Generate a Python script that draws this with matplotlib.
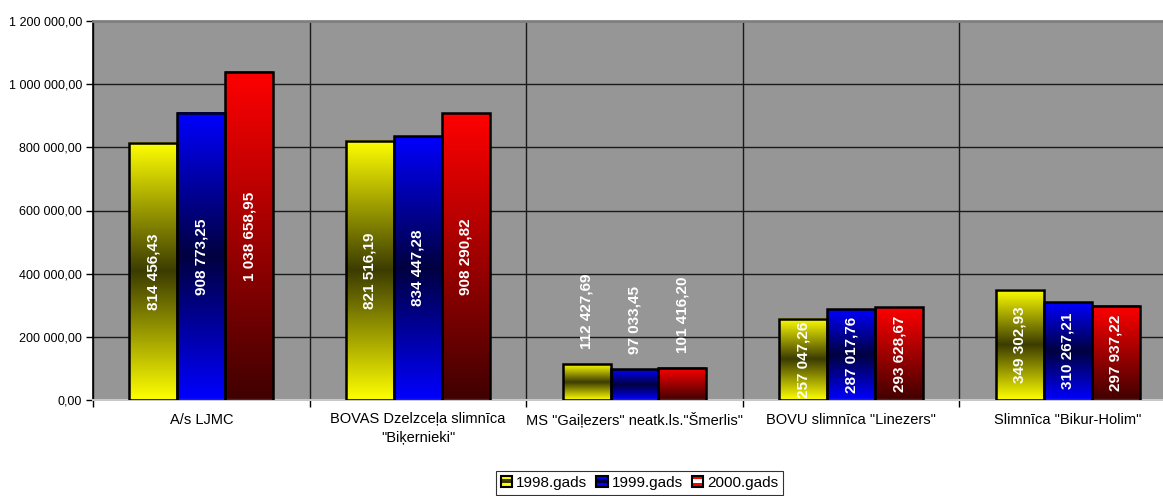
import numpy as np
import matplotlib
matplotlib.use("Agg")
import matplotlib.pyplot as plt
from matplotlib.colors import LinearSegmentedColormap
from matplotlib.patches import Rectangle
from matplotlib.legend_handler import HandlerBase
from matplotlib.ticker import FuncFormatter, FixedLocator

plt.rcParams['font.family'] = ['Liberation Sans', 'DejaVu Sans']

categories = ['A/s LJMC', 'BOVAS Dzelzceļa slimnīca\n"Biķernieki"',
              'MS "Gaiļezers" neatk.ls."Šmerlis"', 'BOVU slimnīca "Linezers"',
              'Slimnīca "Bikur-Holim"']
series_names = ['1998.gads', '1999.gads', '2000.gads']
v1998 = [814456.43, 821516.19, 112427.69, 257047.26, 349302.93]
v1999 = [908773.25, 834447.28, 97033.45, 287017.76, 310267.21]
v2000 = [1038658.95, 908290.82, 101416.20, 293628.67, 297937.22]
values = [v1998, v1999, v2000]

# gradient stops (bottom -> top)
grad_stops = [
    ['#ffff00', '#3c3c00', '#ffff00'],
    ['#0000ff', '#000040', '#0000ff'],
    ['#400000', '#ff0000'],
]
cmaps = [LinearSegmentedColormap.from_list(f'g{i}', s) for i, s in enumerate(grad_stops)]

W, H = 1163, 496
fig = plt.figure(figsize=(W / 100, H / 100), dpi=100)
ax = fig.add_axes([93 / W, 1 - 400 / H, (1176 - 93) / W, (400 - 21) / H])
ax.set_facecolor('#969696')

n = len(categories)
bw = 48 / 216.7
xs = np.arange(n)
ymax = 1200000

grad = np.linspace(0, 1, 256).reshape(-1, 1)
for si, vals in enumerate(values):
    for ci, v in enumerate(vals):
        x0 = ci - 1.5 * bw + si * bw
        ax.imshow(grad, cmap=cmaps[si], origin='lower', aspect='auto',
                  extent=[x0, x0 + bw, 0, v], zorder=2, interpolation='bilinear')
        ax.add_patch(Rectangle((x0, 0), bw, v, facecolor='none', edgecolor='black',
                               linewidth=1.8, zorder=3))
        lab = f"{v:,.2f}".replace(",", " ").replace(".", ",")
        xc = x0 + bw / 2
        if v < 150000:
            ax.annotate(lab, (xc, v), xytext=(0, 11), textcoords='offset points',
                        rotation=90, ha='center', va='bottom', color='white',
                        fontsize=11, fontweight='bold', zorder=4)
        else:
            ax.text(xc, v / 2, lab, rotation=90, ha='center', va='center',
                    color='white', fontsize=11, fontweight='bold', zorder=4)

ax.set_xlim(-0.5, n - 0.5)
ax.set_ylim(0, ymax)

ax.set_yticks(np.arange(0, ymax + 1, 200000))
ax.yaxis.set_major_formatter(FuncFormatter(
    lambda v, p: f"{v:,.2f}".replace(",", " ").replace(".", ",")))
ax.tick_params(axis='y', labelsize=9, length=5, width=1, color='black', pad=3)
ax.grid(axis='y', color='#1a1a1a', linewidth=1, zorder=1)

ax.xaxis.set_major_locator(FixedLocator(np.arange(-0.5, n, 1.0)))
ax.xaxis.set_minor_locator(FixedLocator(xs))
ax.set_xticklabels([''] * (n + 1))
ax.set_xticklabels(categories, minor=True)
ax.tick_params(axis='x', which='major', length=5, width=1, color='black')
ax.tick_params(axis='x', which='minor', length=0, labelsize=10.5, pad=9)
for lbl in ax.get_xticklabels(minor=True):
    lbl.set_ha('center')
    lbl.set_linespacing(1.45)
ax.xaxis.grid(True, which='major', color='#1a1a1a', linewidth=1, zorder=1)
ax.set_axisbelow(True)

ax.spines['left'].set_color('black')
ax.spines['left'].set_linewidth(1.2)
ax.spines['top'].set_color('#808080')
ax.spines['top'].set_linewidth(2)
ax.spines['right'].set_visible(False)
ax.spines['bottom'].set_color('#c8c8c8')
ax.spines['bottom'].set_linewidth(1.5)


class GradHandler(HandlerBase):
    def __init__(self, idx):
        super().__init__()
        self.idx = idx

    def create_artists(self, legend, orig, xd, yd, w, h, fs, trans):
        s = min(w, h)
        x0 = xd + (w - s) / 2
        y0 = yd + (h - s) / 2
        arts = []
        stops = grad_stops[self.idx]
        if self.idx == 2:
            cols = ['#ff0000', '#ffffff', '#ff0000']
        else:
            cols = [stops[0], stops[1], stops[0]]
        for k, c in enumerate(cols):
            arts.append(Rectangle((x0, y0 + k * s / 3), s, s / 3, facecolor=c,
                                  edgecolor='none', transform=trans))
        arts.append(Rectangle((x0, y0), s, s, facecolor='none', edgecolor='black',
                              linewidth=1.5, transform=trans))
        return arts


handles = [Rectangle((0, 0), 1, 1) for _ in series_names]
leg = fig.legend(handles, series_names, loc='center', bbox_to_anchor=(639.5 / W, 1 - 483 / H),
                 ncol=3, fontsize=11, frameon=True, fancybox=False, edgecolor='black',
                 handlelength=0.75, handleheight=0.75, handletextpad=0.25, columnspacing=0.6,
                 borderpad=0.3, handler_map={h: GradHandler(i) for i, h in enumerate(handles)})
leg.get_frame().set_linewidth(0.8)

fig.savefig('out.png', dpi=100)
